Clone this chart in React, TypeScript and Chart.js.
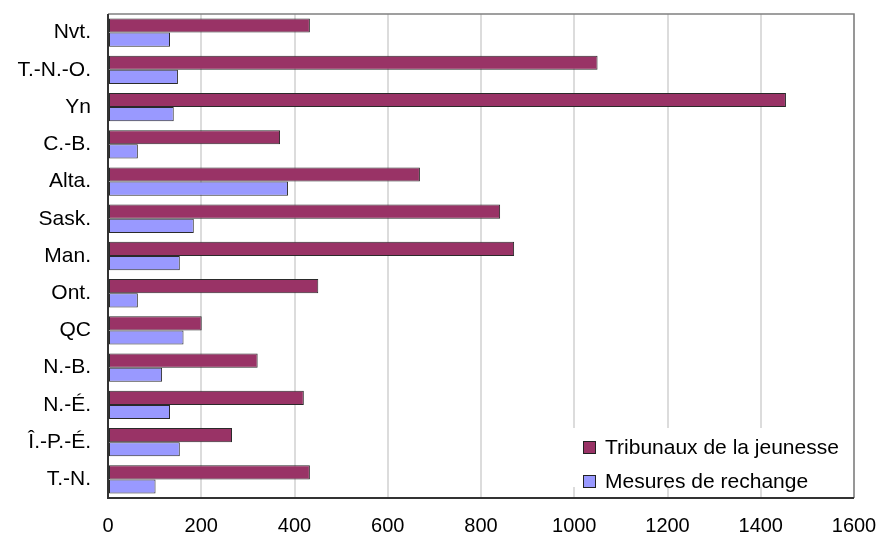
import React, { useEffect, useRef } from "react";
import { Chart, registerables } from "chart.js";

Chart.register(...registerables);

const categories = ["Nvt.", "T.-N.-O.", "Yn", "C.-B.", "Alta.", "Sask.", "Man.", "Ont.", "QC", "N.-B.", "N.-É.", "Î.-P.-É.", "T.-N."];
const tribunaux = [433, 1050, 1454, 369, 669, 841, 871, 451, 201, 321, 420, 266, 433];
const mesures = [133, 150, 141, 64, 386, 184, 154, 64, 162, 116, 133, 154, 102];
const seriesNames = ["Tribunaux de la jeunesse", "Mesures de rechange"];
const seriesColors = ["#993366", "#9999FF"];
const xTicks = [0, 200, 400, 600, 800, 1000, 1200, 1400, 1600];

const FONT = "'Liberation Sans', Arial, Helvetica, sans-serif";

const framePlugin = {
  id: "frame",
  afterDatasetsDraw(chart: any) {
    const { ctx, chartArea } = chart;
    const { left, right, top, bottom } = chartArea;
    ctx.save();
    ctx.strokeStyle = "#808080";
    ctx.lineWidth = 1.5;
    ctx.beginPath();
    ctx.moveTo(left, top);
    ctx.lineTo(right, top);
    ctx.lineTo(right, bottom);
    ctx.stroke();
    ctx.strokeStyle = "#333333";
    ctx.lineWidth = 2;
    ctx.beginPath();
    ctx.moveTo(left, top);
    ctx.lineTo(left, bottom);
    ctx.lineTo(right, bottom);
    ctx.stroke();
    ctx.restore();
  },
  afterDraw(chart: any) {
    const { ctx, chartArea } = chart;
    const boxRight = chartArea.right - 1;
    const boxLeft = boxRight - 283;
    const boxTop = chartArea.bottom - 70;
    const boxBottom = chartArea.bottom - 11;
    ctx.save();
    ctx.fillStyle = "#ffffff";
    ctx.fillRect(boxLeft, boxTop, boxRight - boxLeft, boxBottom - boxTop);
    ctx.font = `21px ${FONT}`;
    ctx.textBaseline = "middle";
    chart.data.datasets.forEach((ds: any, i: number) => {
      const cy = boxTop + 19.5 + i * 34;
      ctx.fillStyle = ds.backgroundColor;
      ctx.fillRect(boxLeft + 13, cy - 6.5, 13, 13);
      ctx.strokeStyle = "#222222";
      ctx.lineWidth = 1;
      ctx.strokeRect(boxLeft + 13.5, cy - 6, 12, 12);
      ctx.fillStyle = "#000000";
      ctx.fillText(ds.label, boxLeft + 35, cy + 1);
    });
    ctx.restore();
  },
};

export default function App() {
  const canvasRef = useRef<HTMLCanvasElement | null>(null);

  useEffect(() => {
    if (!canvasRef.current) return;
    const chart = new Chart(canvasRef.current, {
      type: "bar",
      data: {
        labels: categories,
        datasets: [
          {
            label: seriesNames[0],
            data: tribunaux,
            backgroundColor: seriesColors[0],
            borderColor: "#2a2a2a",
            borderWidth: 1,
            borderSkipped: false,
            categoryPercentage: 0.76,
            barPercentage: 1,
          },
          {
            label: seriesNames[1],
            data: mesures,
            backgroundColor: seriesColors[1],
            borderColor: "#2a2a2a",
            borderWidth: 1,
            borderSkipped: false,
            categoryPercentage: 0.76,
            barPercentage: 1,
          },
        ],
      },
      options: {
        indexAxis: "y",
        animation: false,
        responsive: false,
        maintainAspectRatio: false,
        layout: { padding: { left: 0, right: 35, top: 14, bottom: 0 } },
        plugins: {
          legend: { display: false },
          tooltip: { enabled: false },
        },
        scales: {
          x: {
            min: 0,
            max: 1600,
            afterBuildTicks: (scale: any) => {
              scale.ticks = xTicks.map((v) => ({ value: v }));
            },
            afterFit: (scale: any) => {
              scale.height = 37;
              scale.paddingLeft = 0;
              scale.paddingRight = 0;
            },
            grid: { color: "#dcdcdc", lineWidth: 2, drawTicks: false },
            border: { display: false },
            ticks: {
              color: "#000000",
              font: { family: FONT, size: 20 },
              padding: 16,
              maxRotation: 0,
              callback: (v: any) => String(v),
            },
          },
          y: {
            afterFit: (scale: any) => {
              scale.width = 108;
              scale.paddingTop = 0;
              scale.paddingBottom = 0;
            },
            grid: { display: false, drawTicks: false },
            border: { display: false },
            ticks: {
              color: "#000000",
              font: { family: FONT, size: 21 },
              padding: 17,
            },
          },
        },
      },
      plugins: [framePlugin],
    });
    return () => chart.destroy();
  }, []);

  return (
    <div style={{ position: "fixed", left: 0, top: 0, width: 889, height: 535, background: "#fff" }}>
      <canvas ref={canvasRef} width={889} height={535} style={{ display: "block" }} />
    </div>
  );
}
